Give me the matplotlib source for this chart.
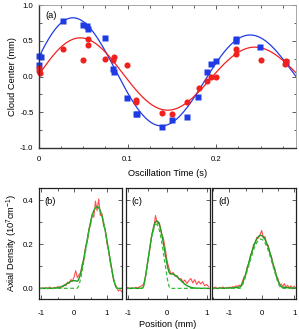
import numpy as np
import matplotlib
matplotlib.use("Agg")
import matplotlib.pyplot as plt
from matplotlib.ticker import MultipleLocator, FuncFormatter

plt.rcParams['font.family'] = ['Liberation Sans', 'DejaVu Sans']
plt.rcParams['mathtext.fontset'] = 'custom'
plt.rcParams['mathtext.rm'] = 'Liberation Sans'
plt.rcParams['mathtext.it'] = 'Liberation Sans:italic'

# ---------------- data: panel (a) ----------------
time_blue = [0.0, 0.002, 0.0, 0.0274, 0.050, 0.0545, 0.0556, 0.0748, 0.0831, 0.0846,
             0.0996, 0.1094, 0.1105, 0.1387, 0.1496, 0.1665, 0.1797, 0.1898, 0.194,
             0.1996, 0.2218, 0.2218, 0.2496, 0.2786]
center_blue = [0.28, 0.27, 0.16, 0.77, 0.72, 0.71, 0.67, 0.54, 0.11, 0.06,
               -0.30, -0.53, -0.53, -0.70, -0.61, -0.56, -0.28, 0.06, 0.18,
               0.22, 0.53, 0.49, 0.41, 0.20]
time_red = [0.0, 0.0, 0.001, 0.027, 0.050, 0.055, 0.055, 0.075, 0.083, 0.085,
            0.0996, 0.109, 0.110, 0.139, 0.150, 0.1665, 0.180, 0.190, 0.194,
            0.200, 0.222, 0.222, 0.250, 0.2775, 0.279]
center_red = [0.12, 0.07, 0.05, 0.38, 0.23, 0.53, 0.44, 0.24, 0.23, 0.27,
              0.16, -0.33, -0.35, -0.51, -0.53, -0.35, -0.16, -0.06, 0.0,
              0.0, 0.38, 0.31, 0.23, 0.17, 0.21]
# damped sine fit parameters: amplitude, damping time, period, phase, offset
fit_blue = [0.879, 0.577, 0.200, 0.314, 0.0]
fit_red = [0.577, 0.72, 0.197, 0.04, 0.0]

# ---------------- data: panels (b)-(d) ----------------
density_b = [0.002, -0.001, 0.003, 0.000, 0.004, -0.002, 0.006, 0.001, -0.002, 0.005,
             0.002, 0.008, 0.003, 0.010, 0.006, 0.016, 0.013, 0.028, 0.022, 0.040,
             0.033, 0.052, 0.080, 0.048, 0.062, 0.071, 0.112, 0.128, 0.190, 0.212,
             0.268, 0.285, 0.338, 0.322, 0.395, 0.352, 0.405, 0.330, 0.338, 0.282,
             0.268, 0.205, 0.172, 0.118, 0.085, 0.040, 0.018, 0.004, -0.012, -0.006,
             -0.015]
pos_b_range = [-1.05, 1.45]
density_c = [0.001, 0.004, -0.001, 0.003, 0.000, 0.005, 0.002, 0.008, 0.012, 0.020,
             0.058, 0.118, 0.170, 0.238, 0.262, 0.330, 0.292, 0.298, 0.250, 0.228,
             0.178, 0.120, 0.088, 0.065, 0.072, 0.055, 0.058, 0.040, 0.045, 0.028,
             0.038, 0.022, 0.035, 0.045, 0.025, 0.040, 0.018, 0.032, 0.020, 0.030,
             0.012, 0.018, 0.008]
pos_c_range = [-1.05, 1.05]
density_d = [0.004, 0.000, 0.006, 0.002, -0.002, 0.005, 0.001, 0.007, -0.001, 0.004,
             0.002, 0.006, 0.003, 0.008, 0.005, 0.012, 0.008, 0.015, 0.010, 0.030,
             0.052, 0.058, 0.098, 0.112, 0.150, 0.165, 0.200, 0.205, 0.232, 0.228,
             0.245, 0.262, 0.228, 0.235, 0.200, 0.195, 0.158, 0.145, 0.105, 0.092,
             0.055, 0.045, 0.018, 0.020, 0.008, 0.022, 0.004, 0.015, 0.002, 0.012,
             -0.002, 0.010, 0.003]
pos_d_range = [-1.55, 1.05]
# bimodal fit parameters: condensate (center, radius, peak), thermal (center, width, peak)
tf_b = [0.70, 0.62, 0.37]
th_b = [0.00, 0.22, 0.035]
tf_c = [-0.28, 0.36, 0.29]
th_c = [0.10, 0.22, 0.066]
tf_d = [-0.03, 0.66, 0.223]
th_d = [-0.03, 0.45, 0.017]
xlims_bottom = [(-1.07, 1.46), (-1.05, 1.08), (-1.53, 1.06)]
letters = ['(b)', '(c)', '(d)']

# ---------------- figure ----------------
fig = plt.figure(figsize=(2.99, 3.29), dpi=100)
W, H = 299.0, 329.0

def rect(l, r, t, b):
    return [l / W, 1 - b / H, (r - l) / W, (b - t) / H]

blue = '#1f3be6'
red = '#f0201e'
green = '#1e9a1e'
lab_fs = 6.7
tick_fs = 5.6

def style(ax, pad):
    ax.tick_params(which='both', direction='in', top=True, right=True,
                   labelsize=tick_fs, width=0.6, colors='#444444',
                   labelcolor='black')
    ax.tick_params(axis='y', which='both', pad=4)
    ax.tick_params(axis='x', which='both', pad=pad)
    ax.tick_params(which='major', length=3)
    ax.tick_params(which='minor', length=1.8)

fmt = FuncFormatter(lambda v, p: ('%.1f' % v))
fmtx = FuncFormatter(lambda v, p: '0' if abs(v) < 1e-9 else ('%.1f' % v))
fmti = FuncFormatter(lambda v, p: '%d' % round(v))

ax = fig.add_axes(rect(39, 296, 5, 148))
tt = np.linspace(0, 0.29, 400)
def dsine(t, p):
    A, tau, T, phi, c = p
    return A * np.exp(-t / tau) * np.sin(2 * np.pi * t / T + phi) + c
ax.plot(tt, dsine(tt, fit_blue), color=blue, lw=0.9)
ax.plot(tt, dsine(tt, fit_red), color=red, lw=0.9)
ax.plot(time_blue, center_blue, 's', color=blue, ms=4.4, mec='none', clip_on=False)
ax.plot(time_red, center_red, 'o', color=red, ms=4.4, mec='none', clip_on=False)
ax.set_xlim(0, 0.29)
ax.set_ylim(-1.0, 1.0)
ax.xaxis.set_major_locator(MultipleLocator(0.1))
ax.xaxis.set_minor_locator(MultipleLocator(0.025))
ax.yaxis.set_major_locator(MultipleLocator(0.5))
ax.yaxis.set_minor_locator(MultipleLocator(0.25))
ax.xaxis.set_major_formatter(fmtx)
ax.yaxis.set_major_formatter(fmt)
style(ax, 6)
for s in ['left', 'bottom']:
    ax.spines[s].set_linewidth(1.0)
    ax.spines[s].set_color('#333333')
for s in ['top', 'right']:
    ax.spines[s].set_linewidth(0.6)
    ax.spines[s].set_color('#999999')
ax.set_xlabel('Oscillation Time (s)', fontsize=lab_fs, labelpad=4)
ax.set_ylabel('Cloud Center (mm)', fontsize=lab_fs, labelpad=2)
ax.text(0.026, 0.925, '(a)', transform=ax.transAxes, fontsize=lab_fs, va='center', ha='left')

panel_px = [(39, 122), (126, 209.7), (212.3, 296)]
densities = [density_b, density_c, density_d]
ranges = [pos_b_range, pos_c_range, pos_d_range]
tfs = [tf_b, tf_c, tf_d]
ths = [th_b, th_c, th_d]

def tf_profile(x, p):
    x0, R, n0 = p
    u = (x - x0) / R
    return np.where(np.abs(u) < 1, n0 * (1 - u ** 2) ** 2, 0.0)

def thermal(x, p):
    xc, s, a = p
    return a * np.exp(-(x - xc) ** 2 / (2 * s ** 2))

for i in range(3):
    l, r = panel_px[i]
    axb = fig.add_axes(rect(l, r, 187.7, 299))
    dens = densities[i]
    pos = np.linspace(ranges[i][0], ranges[i][1], len(dens))
    xx = np.linspace(xlims_bottom[i][0], xlims_bottom[i][1], 500)
    axb.plot(pos, dens, color='#ff3030', lw=0.8, alpha=0.85)
    cond = tf_profile(xx, tfs[i])
    axb.plot(xx, cond + thermal(xx, ths[i]), color=green, lw=1.0)
    axb.plot(xx, cond, color='#33bb33', lw=0.9, ls=(0, (3, 2)))
    axb.set_xlim(*xlims_bottom[i])
    axb.set_ylim(-0.048, 0.456)
    axb.xaxis.set_major_locator(MultipleLocator(1))
    axb.xaxis.set_minor_locator(MultipleLocator(0.5))
    axb.yaxis.set_major_locator(MultipleLocator(0.2))
    axb.yaxis.set_minor_locator(MultipleLocator(0.1))
    axb.xaxis.set_major_formatter(fmti)
    axb.yaxis.set_major_formatter(fmt)
    style(axb, 8)
    for s in axb.spines.values():
        s.set_linewidth(0.9)
        s.set_color('#222222')
    if i > 0:
        axb.tick_params(labelleft=False)
    else:
        axb.set_ylabel('Axial Density (10$^{7}$cm$^{-1}$)', fontsize=lab_fs, labelpad=2)
    if i == 1:
        axb.set_xlabel('Position (mm)', fontsize=lab_fs, labelpad=2)
    axb.text(0.07, 0.88, letters[i], transform=axb.transAxes, fontsize=lab_fs,
             va='center', ha='left')

fig.savefig('out.png', dpi=100)
